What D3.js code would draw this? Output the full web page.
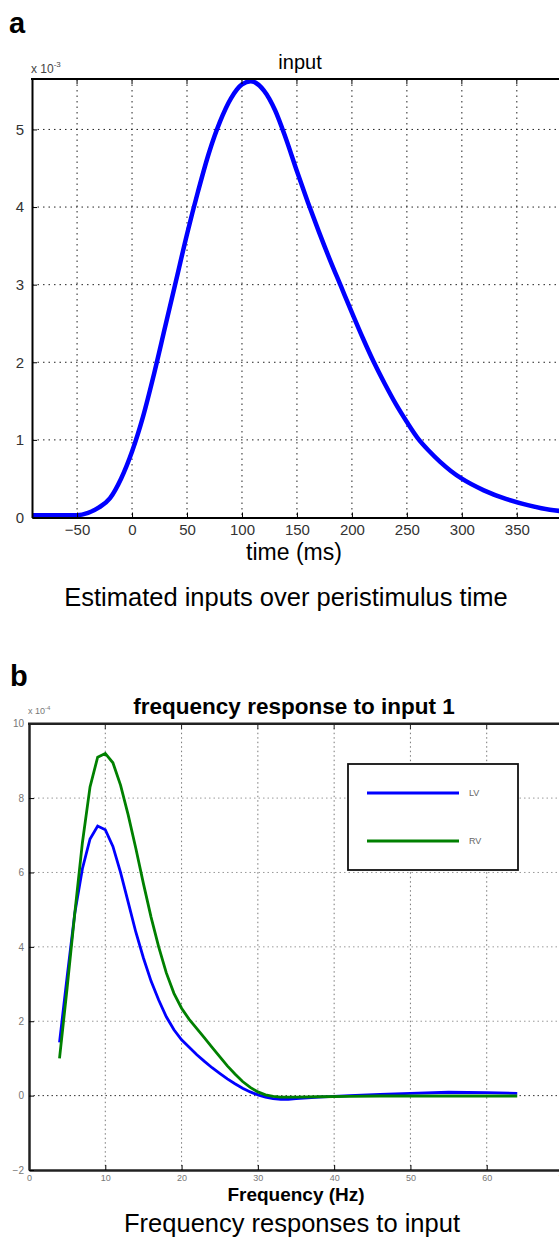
<!DOCTYPE html>
<html>
<head>
<meta charset="utf-8">
<script src="https://cdn.jsdelivr.net/npm/d3@7"></script>
<style>
  body { margin: 0; background: #fff; }
  text { font-family: "Liberation Sans", Arial, sans-serif; }
</style>
</head>
<body>
<div id="chart"></div>
<script>
// Panel a: estimated input (x 10^-3) over peristimulus time
var timeMs = [-91, -50, -40, -30, -20, -10, 0, 10, 20, 30, 40, 50, 60, 70, 80, 90, 100, 108,
    120, 130, 140, 150, 160, 170, 180, 190, 200, 210, 220, 230, 240, 250, 260, 270, 280, 290,
    300, 320, 340, 360, 380, 392];
var inputVal = [0.03, 0.03, 0.06, 0.13, 0.25, 0.5, 0.85, 1.3, 1.85, 2.45, 3.05, 3.65, 4.2, 4.7,
    5.1, 5.4, 5.58, 5.62, 5.5, 5.25, 4.88, 4.46, 4.06, 3.68, 3.32, 2.98, 2.64, 2.31, 2.0, 1.72,
    1.46, 1.23, 1.02, 0.86, 0.72, 0.6, 0.5, 0.35, 0.24, 0.16, 0.1, 0.08];
var timeTicks = [-50, 0, 50, 100, 150, 200, 250, 300, 350];
var inputTicks = [0, 1, 2, 3, 4, 5];

// Panel b: frequency response (x 10^-4)
var freqHz = [4, 5, 6, 7, 8, 9, 10, 11, 12, 13, 14, 15, 16, 17, 18, 19, 20, 21, 22, 23, 24, 25,
    26, 27, 28, 29, 30, 31, 32, 33, 34, 35, 38, 42, 46, 50, 55, 60, 64];
var lvVal = [1.43, 3.2, 4.9, 6.1, 6.9, 7.25, 7.15, 6.7, 6.0, 5.2, 4.4, 3.7, 3.08, 2.57, 2.12, 1.77,
    1.5, 1.3, 1.1, 0.92, 0.75, 0.6, 0.45, 0.32, 0.2, 0.1, 0.02, -0.04, -0.08, -0.1, -0.1, -0.08,
    -0.04, 0.0, 0.03, 0.06, 0.09, 0.08, 0.06];
var rvVal = [1.0, 2.9, 4.9, 6.8, 8.3, 9.1, 9.2, 8.95, 8.35, 7.55, 6.65, 5.7, 4.8, 4.0, 3.3, 2.75,
    2.35, 2.05, 1.8, 1.55, 1.3, 1.05, 0.8, 0.58, 0.38, 0.22, 0.1, 0.02, -0.02, -0.04, -0.04, -0.04,
    -0.03, -0.02, -0.01, -0.01, -0.01, -0.01, -0.01];
var freqTicks = [0, 10, 20, 30, 40, 50, 60, 70];
var respTicks = [-2, 0, 2, 4, 6, 8, 10];
var seriesNames = ["LV", "RV"];
var seriesColors = ["#0000ff", "#008000"];

var W = 559, H = 1240;
var svg = d3.select("#chart").append("svg")
    .attr("width", W)
    .attr("height", H);

// ---------- panel a ----------
(function() {
    var x = d3.scaleLinear().domain([-91, 392]).range([32, 563]);
    var y = d3.scaleLinear().domain([0, 5.65]).range([517.5, 79]);
    var g = svg.append("g");

    g.append("text").attr("x", 9).attr("y", 33)
        .style("font-size", "29px").style("font-weight", "bold").text("a");

    g.append("clipPath").attr("id", "clipA").append("rect")
        .attr("x", 32).attr("y", 79).attr("width", 531).attr("height", 438.5);

    // dotted grid
    g.selectAll(".gx").data(timeTicks).enter().append("line")
        .attr("x1", d => x(d)).attr("x2", d => x(d))
        .attr("y1", y(5.65)).attr("y2", y(0))
        .attr("stroke", "#222").attr("stroke-width", 1).attr("stroke-dasharray", "1.5,4");
    g.selectAll(".gy").data(inputTicks.slice(1)).enter().append("line")
        .attr("x1", 32).attr("x2", 563)
        .attr("y1", d => y(d)).attr("y2", d => y(d))
        .attr("stroke", "#222").attr("stroke-width", 1).attr("stroke-dasharray", "1.5,4");

    var line = d3.line()
        .x(function(d, i) { return x(timeMs[i]); })
        .y(function(d) { return y(d); })
        .curve(d3.curveMonotoneX);
    g.append("path").datum(inputVal)
        .attr("clip-path", "url(#clipA)")
        .attr("d", line)
        .attr("fill", "none").attr("stroke", "#0000ff").attr("stroke-width", 4.5);

    // axes (ticks inward like MATLAB)
    var ax = g.append("g").attr("transform", "translate(0,517.5)")
        .call(d3.axisBottom(x).tickValues(timeTicks).tickSizeInner(-5).tickSizeOuter(0).tickPadding(7));
    ax.select(".domain").attr("stroke-width", 2);
    ax.selectAll("text").style("font-size", "15px").attr("fill", "#333");
    var ay = g.append("g").attr("transform", "translate(32,0)")
        .call(d3.axisLeft(y).tickValues(inputTicks).tickFormat(d3.format("d"))
            .tickSizeInner(-5).tickSizeOuter(0).tickPadding(8));
    ay.select(".domain").attr("stroke-width", 2);
    ay.selectAll("text").style("font-size", "15px").attr("fill", "#333");
    g.append("line").attr("x1", 31).attr("x2", 563).attr("y1", 79).attr("y2", 79)
        .attr("stroke", "#000").attr("stroke-width", 2);
    g.selectAll(".tt").data(timeTicks).enter().append("line")
        .attr("x1", d => x(d)).attr("x2", d => x(d)).attr("y1", 79).attr("y2", 84)
        .attr("stroke", "#000");

    // exponent
    var ex = g.append("text").attr("x", 31).attr("y", 73).style("font-size", "12px").attr("fill", "#444");
    ex.append("tspan").text("x 10");
    ex.append("tspan").attr("dy", -6).style("font-size", "8px").text("-3");

    g.append("text").attr("x", 300).attr("y", 69).attr("text-anchor", "middle")
        .style("font-size", "20px").text("input");
    g.append("text").attr("x", 294).attr("y", 560).attr("text-anchor", "middle")
        .style("font-size", "23px").text("time (ms)");
    g.append("text").attr("x", 286).attr("y", 606).attr("text-anchor", "middle")
        .style("font-size", "25.5px").text("Estimated inputs over peristimulus time");
})();

// ---------- panel b ----------
(function() {
    var x = d3.scaleLinear().domain([0, 70]).range([29, 563]);
    var y = d3.scaleLinear().domain([-2, 10]).range([1170, 723.7]);
    var g = svg.append("g");

    g.append("text").attr("x", 10).attr("y", 686)
        .style("font-size", "29px").style("font-weight", "bold").text("b");

    // dotted grid
    g.selectAll(".gx").data(freqTicks.slice(1, 7)).enter().append("line")
        .attr("x1", d => x(d)).attr("x2", d => x(d))
        .attr("y1", y(10)).attr("y2", y(-2))
        .attr("stroke", "#777").attr("stroke-width", 1).attr("stroke-dasharray", "1.5,3");
    g.selectAll(".gy").data(respTicks.slice(1, 6)).enter().append("line")
        .attr("x1", 29).attr("x2", 563)
        .attr("y1", d => y(d)).attr("y2", d => y(d))
        .attr("stroke", d => d === 0 ? "#333" : "#999").attr("stroke-width", 1)
        .attr("stroke-dasharray", "1.5,3");

    var series = [lvVal, rvVal];
    var line = d3.line()
        .x(function(d, i) { return x(freqHz[i]); })
        .y(function(d) { return y(d); });
    g.selectAll(".series").data([0, 1]).enter().append("path")
        .attr("d", d => line(series[d]))
        .attr("fill", "none")
        .attr("stroke", d => seriesColors[d])
        .attr("stroke-width", 2.8);

    var ax = g.append("g").attr("transform", "translate(0,1170)")
        .call(d3.axisBottom(x).tickValues(freqTicks).tickSizeInner(-5).tickSizeOuter(0).tickPadding(5));
    ax.select(".domain").attr("stroke-width", 2.5).attr("stroke", "#222");
    ax.selectAll("text").style("font-size", "9px").attr("fill", "#777");
    var ay = g.append("g").attr("transform", "translate(29,0)")
        .call(d3.axisLeft(y).tickValues(respTicks).tickSizeInner(-5).tickSizeOuter(0).tickPadding(5));
    ay.select(".domain").attr("stroke-width", 2.5).attr("stroke", "#222");
    ay.selectAll("text").style("font-size", "10px").attr("fill", "#777");
    g.append("line").attr("x1", 28).attr("x2", 563).attr("y1", 723.7).attr("y2", 723.7)
        .attr("stroke", "#222").attr("stroke-width", 2.5);
    g.selectAll(".tt").data(freqTicks.slice(1)).enter().append("line")
        .attr("x1", d => x(d)).attr("x2", d => x(d)).attr("y1", 723.7).attr("y2", 729)
        .attr("stroke", "#222");

    var ex = g.append("text").attr("x", 28).attr("y", 714).style("font-size", "9px").attr("fill", "#777");
    ex.append("tspan").text("x 10");
    ex.append("tspan").attr("dy", -4).style("font-size", "6px").text("-4");

    g.append("text").attr("x", 294).attr("y", 714).attr("text-anchor", "middle")
        .style("font-size", "22.5px").style("font-weight", "bold").text("frequency response to input 1");

    // legend
    var lg = g.append("g");
    lg.append("rect").attr("x", 348).attr("y", 764).attr("width", 170).attr("height", 106)
        .attr("fill", "#fff").attr("stroke", "#111").attr("stroke-width", 1.8);
    lg.selectAll(".ll").data(seriesNames).enter().append("line")
        .attr("x1", 367).attr("x2", 459)
        .attr("y1", (d, i) => 793 + i * 48).attr("y2", (d, i) => 793 + i * 48)
        .attr("stroke", (d, i) => seriesColors[i]).attr("stroke-width", 2.8);
    lg.selectAll(".lt").data(seriesNames).enter().append("text")
        .attr("x", 469).attr("y", (d, i) => 796 + i * 48)
        .style("font-size", "9px").attr("fill", "#666").text(d => d);

    g.append("text").attr("x", 296).attr("y", 1201).attr("text-anchor", "middle")
        .style("font-size", "19px").style("font-weight", "bold").text("Frequency (Hz)");
    g.append("text").attr("x", 292).attr("y", 1232).attr("text-anchor", "middle")
        .style("font-size", "25.5px").text("Frequency responses to input");
})();
</script>
</body>
</html>
